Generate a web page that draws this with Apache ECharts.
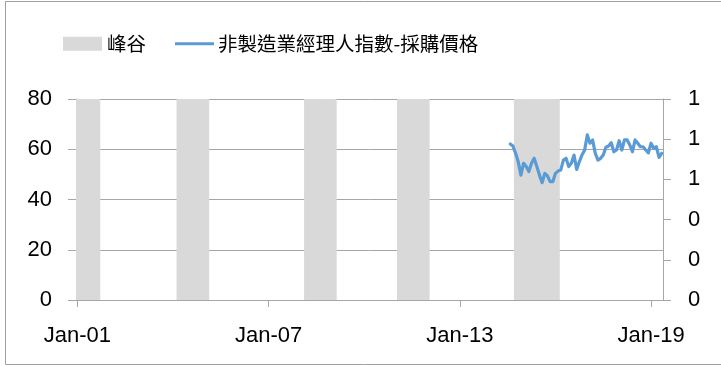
<!DOCTYPE html>
<html>
<head>
<meta charset="utf-8">
<script src="https://cdn.jsdelivr.net/npm/echarts@6/dist/echarts.min.js"></script>
<style>
  html, body { margin: 0; padding: 0; background: #fff; }
  #chart { width: 721px; height: 367px; }
</style>
</head>
<body>
<div id="chart"></div>
<script>
// Monthly axis: Jan 2001 through May 2019
const firstYear = 2001;
const monthCount = 221;
const monthNames = ['Jan','Feb','Mar','Apr','May','Jun','Jul','Aug','Sep','Oct','Nov','Dec'];

// Business-cycle peak/trough periods (inclusive months, YYYY-MM)
const cyclePeaks   = ['2001-01', '2004-03', '2008-03', '2011-02', '2014-10'];
const cycleTroughs = ['2001-09', '2005-02', '2009-02', '2012-01', '2016-02'];

// Non-manufacturing PMI, purchase price sub-index: Aug 2014 to May 2019
const priceStart = '2014-08';
const priceIndex = [
  62.1, 61.3, 58.4, 55.0, 49.7,
  54.4, 53.1, 51.1, 54.4, 56.4, 53.1, 49.7, 46.7, 50.4, 49.4, 47.1, 47.1,
  50.4, 51.3, 51.7, 55.7, 56.4, 53.1, 54.4, 57.7, 52.0, 55.0, 57.7, 59.7,
  65.7, 62.4, 63.7, 58.4, 55.7, 56.4, 57.7, 60.8, 61.3, 62.6, 59.0, 59.7,
  63.4, 59.7, 63.7, 63.7, 61.7, 59.0, 63.7, 62.4, 61.0, 61.0, 59.7, 58.6,
  62.4, 60.4, 61.0, 56.8, 58.4
];

const seriesNames = ['峰谷', '非製造業經理人指數-採購價格'];

// ---- build category keys and labels ----
const keys = [];
const labels = [];
for (let i = 0; i < monthCount; i++) {
  const y = firstYear + Math.floor(i / 12);
  const m = i % 12;
  keys.push(y + '-' + String(m + 1).padStart(2, '0'));
  labels.push(monthNames[m] + '-' + String(y % 100).padStart(2, '0'));
}

// shaded columns span the full height of the left axis
const bandData = keys.map(k => {
  for (let j = 0; j < cyclePeaks.length; j++) {
    if (k >= cyclePeaks[j] && k <= cycleTroughs[j]) return 80;
  }
  return null;
});

const startIdx = keys.indexOf(priceStart);
const lineData = keys.map((k, i) => {
  const j = i - startIdx;
  return (j >= 0 && j < priceIndex.length) ? priceIndex[j] : null;
});

const axisGray = '#a6a6a6';
const textFont = 'Liberation Sans, Arial, sans-serif';
const legendFont = { fontFamily: 'Noto Sans CJK TC', fontSize: 19.5, color: '#000' };
const everySixYears = (idx) => idx % 72 === 0;

const chart = echarts.init(document.getElementById('chart'), null, { renderer: 'canvas' });
chart.setOption({
  animation: false,
  backgroundColor: '#ffffff',
  graphic: [{
    type: 'rect',
    shape: { x: 5.5, y: 1.5, width: 730, height: 363 },
    style: { fill: null, stroke: '#a0a0a0', lineWidth: 1 },
    silent: true
  }],
  legend: [
    {
      left: 58,
      top: 29,
      itemWidth: 39,
      itemHeight: 14,
      textStyle: legendFont,
      data: [{ name: seriesNames[0], icon: 'rect' }]
    },
    {
      left: 170,
      top: 29,
      itemWidth: 39,
      itemHeight: 3,
      textStyle: Object.assign({ padding: [0, 0, 0, -1] }, legendFont),
      data: [{ name: seriesNames[1], icon: 'rect' }]
    }
  ],
  grid: { left: 76, right: 58, top: 99, bottom: 67, containLabel: false },
  xAxis: {
    type: 'category',
    data: labels,
    boundaryGap: true,
    axisLine: { lineStyle: { color: axisGray, width: 1 } },
    axisTick: { show: true, alignWithLabel: true, interval: everySixYears, length: 7, lineStyle: { color: axisGray } },
    axisLabel: {
      interval: everySixYears,
      margin: 25,
      fontFamily: textFont,
      fontSize: 22,
      color: '#000'
    },
    splitLine: { show: false }
  },
  yAxis: [
    {
      type: 'value',
      min: 0, max: 80, interval: 20,
      axisLine: { show: true, lineStyle: { color: axisGray } },
      axisTick: { show: true, length: 8, lineStyle: { color: axisGray } },
      axisLabel: { margin: 24, fontFamily: textFont, fontSize: 22, color: '#000' },
      splitLine: { show: true, lineStyle: { color: axisGray, width: 1 } }
    },
    {
      type: 'value',
      min: 0, max: 1, interval: 0.2,
      position: 'right',
      axisLine: { show: true, lineStyle: { color: axisGray } },
      axisTick: { show: true, length: 8, lineStyle: { color: axisGray } },
      axisLabel: {
        margin: 25, fontFamily: textFont, fontSize: 22, color: '#000',
        formatter: v => v.toFixed(0)
      },
      splitLine: { show: false }
    }
  ],
  series: [
    {
      name: seriesNames[0],
      type: 'bar',
      yAxisIndex: 0,
      data: bandData,
      barWidth: 3.4,
      barGap: '-100%',
      itemStyle: { color: '#d9d9d9' },
      silent: true
    },
    {
      name: seriesNames[1],
      type: 'line',
      yAxisIndex: 0,
      data: lineData,
      symbol: 'none',
      connectNulls: false,
      lineStyle: { color: '#5b9bd5', width: 3.2, join: 'round', cap: 'round' },
      itemStyle: { color: '#5b9bd5' }
    }
  ]
});
</script>
</body>
</html>
